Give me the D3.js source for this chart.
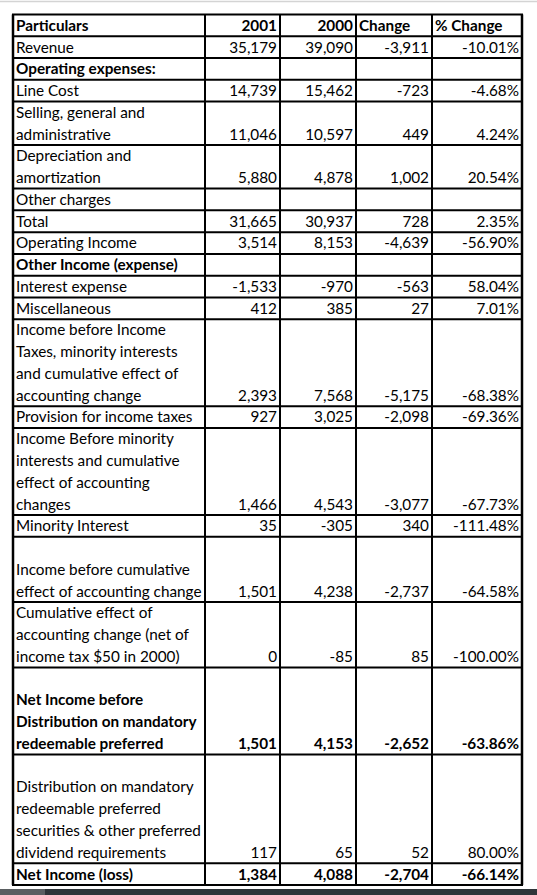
<!DOCTYPE html>
<html>
<head>
<meta charset="utf-8">
<script src="https://cdn.jsdelivr.net/npm/d3@7"></script>
<style>
html,body{margin:0;padding:0;background:#fff;}
svg{display:block;}
</style>
</head>
<body>
<div id="chart"></div>
<script>
// ---- data ----
const headers = ["Particulars", "2001", "2000", "Change", "% Change"];
const labels = [
  ["Revenue"],
  ["Operating expenses:"],
  ["Line Cost"],
  ["Selling, general and", "administrative"],
  ["Depreciation and", "amortization"],
  ["Other charges"],
  ["Total"],
  ["Operating Income"],
  ["Other Income (expense)"],
  ["Interest expense"],
  ["Miscellaneous"],
  ["Income before Income", "Taxes, minority interests", "and cumulative effect of", "accounting change"],
  ["Provision for income taxes"],
  ["Income Before minority", "interests and cumulative", "effect of accounting", "changes"],
  ["Minority Interest"],
  ["", "Income before cumulative", "effect of accounting change"],
  ["Cumulative effect of", "accounting change (net of", "income tax $50 in 2000)"],
  ["", "Net Income before", "Distribution on mandatory", "redeemable preferred"],
  ["", "Distribution on mandatory", "redeemable preferred", "securities & other preferred", "dividend requirements"],
  ["Net Income (loss)"]
];
const values2001 = ["35,179", "", "14,739", "11,046", "5,880", "", "31,665", "3,514", "", "-1,533", "412", "2,393", "927", "1,466", "35", "1,501", "0", "1,501", "117", "1,384"];
const values2000 = ["39,090", "", "15,462", "10,597", "4,878", "", "30,937", "8,153", "", "-970", "385", "7,568", "3,025", "4,543", "-305", "4,238", "-85", "4,153", "65", "4,088"];
const changes    = ["-3,911", "", "-723", "449", "1,002", "", "728", "-4,639", "", "-563", "27", "-5,175", "-2,098", "-3,077", "340", "-2,737", "85", "-2,652", "52", "-2,704"];
const pctChanges = ["-10.01%", "", "-4.68%", "4.24%", "20.54%", "", "2.35%", "-56.90%", "", "58.04%", "7.01%", "-68.38%", "-69.36%", "-67.73%", "-111.48%", "-64.58%", "-100.00%", "-63.86%", "80.00%", "-66.14%"];
const boldRows = [false, true, false, false, false, false, false, false, true, false, false, false, false, false, false, false, false, true, false, true];

// ---- layout ----
const W = 537, H = 895;
const svg = d3.select("#chart").append("svg").attr("width", W).attr("height", H);
const font = "Lato, 'Open Sans', sans-serif";
const fs = 15.3;

// rows incl. header
const rows = [{label: [headers[0]], vals: headers.slice(1), bold: true, header: true}]
  .concat(labels.map((l, i) => ({label: l, vals: [values2001[i], values2000[i], changes[i], pctChanges[i]], bold: boldRows[i], header: false})));
let acc = 0;
rows.forEach(r => { r.start = acc; acc += r.label.length; r.end = acc; });
const totalLines = acc;

const y = d3.scaleLinear().domain([0, totalLines]).range([14.5, 885]);
const colEdges = [13, 205, 280, 356, 432, 522];
const x = d3.scaleOrdinal().domain(d3.range(6)).range(colEdges);

// frame decorations
svg.append("rect").attr("x", 0).attr("y", 0).attr("width", W).attr("height", H).attr("fill", "#fff");
svg.append("line").attr("x1", 0).attr("x2", W).attr("y1", 1.5).attr("y2", 1.5).attr("stroke", "#d4d4d4").attr("stroke-width", 1.5);
svg.append("rect").attr("x", 0).attr("y", 889).attr("width", W).attr("height", 6).attr("fill", "#2e3438");
svg.append("rect").attr("x", 0).attr("y", 889).attr("width", 45).attr("height", 6).attr("fill", "#5a5e61");

const g = svg.append("g");

// text
rows.forEach(r => {
  const top = y(r.start);
  const lh = (y(r.end) - y(r.start)) / r.label.length;
  r.label.forEach((t, li) => {
    g.append("text")
      .attr("x", x(0) + 3)
      .attr("y", top + (li + 1) * lh - 5.5)
      .attr("font-family", font).attr("font-size", fs)
      .attr("font-weight", r.bold ? "bold" : "normal")
      .attr("fill", "#000")
      .text(t);
  });
  const baseY = y(r.end) - 5.5;
  r.vals.forEach((v, ci) => {
    if (!v) return;
    const leftAlign = r.header && ci >= 2;
    g.append("text")
      .attr("x", leftAlign ? x(ci + 1) + 3 : x(ci + 2) - 3)
      .attr("y", baseY)
      .attr("text-anchor", leftAlign ? "start" : "end")
      .attr("font-family", font).attr("font-size", fs)
      .attr("font-weight", r.bold ? "bold" : "normal")
      .attr("fill", "#000")
      .text(v);
  });
});

// grid lines
const hb = [0].concat(rows.map(r => r.end));
hb.forEach(b => {
  g.append("line").attr("x1", x(0) - 1).attr("x2", x(5) + 1)
    .attr("y1", y(b)).attr("y2", y(b))
    .attr("stroke", "#000").attr("stroke-width", 2);
});
d3.range(6).forEach(c => {
  g.append("line").attr("x1", x(c)).attr("x2", x(c))
    .attr("y1", y(0)).attr("y2", y(totalLines))
    .attr("stroke", "#000").attr("stroke-width", (c === 0 || c === 5) ? 2.5 : 2);
});
</script>
</body>
</html>
